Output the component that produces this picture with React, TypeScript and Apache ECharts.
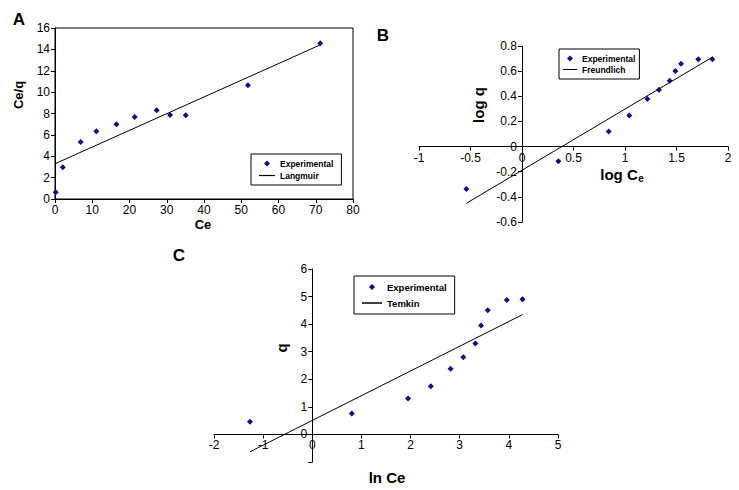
import React, { useEffect, useRef } from "react";
import * as echarts from "echarts";

// Panel A – Langmuir
const langExpX = [0.2, 2.1, 6.9, 11.1, 16.5, 21.4, 27.3, 30.9, 35.1, 51.8, 71.2];
const langExpY = [0.62, 2.96, 5.33, 6.33, 6.99, 7.67, 8.3, 7.86, 7.83, 10.64, 14.57];
const langFitX = [0, 71.2];
const langFitY = [3.3, 14.42];

// Panel B – Freundlich
const freExpX = [-0.54, 0.353, 0.841, 1.042, 1.217, 1.33, 1.434, 1.489, 1.544, 1.712, 1.848];
const freExpY = [-0.337, -0.117, 0.119, 0.247, 0.379, 0.451, 0.523, 0.602, 0.658, 0.695, 0.695];
const freFitX = [-0.54, 1.848];
const freFitY = [-0.451, 0.711];

// Panel C – Temkin
const temExpX = [-1.267, 0.804, 1.949, 2.412, 2.814, 3.073, 3.319, 3.434, 3.571, 3.959, 4.279];
const temExpY = [0.459, 0.761, 1.304, 1.75, 2.378, 2.8, 3.296, 3.948, 4.503, 4.877, 4.9];
const temFitX = [-1.267, 4.279];
const temFitY = [-0.628, 4.346];

const axisA = { xMin: 0, xMax: 80, xStep: 10, yMin: 0, yMax: 16, yStep: 2 };
const axisB = { xMin: -1, xMax: 2, xStep: 0.5, yMin: -0.6, yMax: 0.8, yStep: 0.2 };
const axisC = { xMin: -2, xMax: 5, xStep: 1, yMin: -1, yMax: 6, yStep: 1 };
const hiddenTickC = [-1];

const FONT = "'Liberation Sans', Arial, sans-serif";
const DOT = "#0c0c8c";

const gridA = { left: 55, top: 28, width: 298, height: 171 };
const gridB = { left: 419, top: 46, width: 309, height: 176 };
const gridC = { left: 214, top: 269, width: 344, height: 193 };

const zip = (xs: number[], ys: number[]) => xs.map((x, i) => [x, ys[i]]);

const axisCommon = (g: number) => ({
  gridIndex: g,
  type: "value" as const,
  splitLine: { show: false },
  axisLine: { show: true, onZero: false, lineStyle: { color: "#000", width: 1 } },
  axisTick: { show: true, length: 4, lineStyle: { color: "#000" } },
  axisLabel: { color: "#000", fontSize: 12, fontFamily: FONT, margin: 5 },
});

// offsets that place an axis where the other axis is zero (crossing axes)
const xCrossOffset = (g: { height: number }, a: { yMin: number; yMax: number }) =>
  -g.height * ((0 - a.yMin) / (a.yMax - a.yMin));
const yCrossOffset = (g: { width: number }, a: { xMin: number; xMax: number }) =>
  -g.width * ((0 - a.xMin) / (a.xMax - a.xMin));

const LINE_ICON = "path://M0,0L16,0L16,1.2L0,1.2Z";
const DIAMOND_ICON = "path://M3,0L6,3L3,6L0,3Z";

export default function App() {
  const ref = useRef<HTMLDivElement>(null);
  useEffect(() => {
    if (!ref.current) return;
    const chart = echarts.init(ref.current, undefined, { renderer: "svg" });
    const scatter = (xi: number, data: number[][]) => ({
      type: "scatter",
      name: "Experimental",
      xAxisIndex: xi,
      yAxisIndex: xi,
      symbol: "diamond",
      symbolSize: 6,
      itemStyle: { color: DOT, opacity: 1 },
      data,
    });
    const fit = (xi: number, name: string, data: number[][]) => ({
      type: "line",
      name,
      xAxisIndex: xi,
      yAxisIndex: xi,
      symbol: "none",
      lineStyle: { color: "#000", width: 1 },
      itemStyle: { color: "#000" },
      data,
    });
    const legend = (left: number, top: number, fitName: string, fs: number, pad: number[], gap: number, iw: number) => ({
      left,
      top,
      orient: "vertical",
      data: [
        { name: "Experimental", icon: DIAMOND_ICON, itemStyle: { color: DOT } },
        { name: fitName, icon: LINE_ICON, itemStyle: { color: "#000" } },
      ],
      borderColor: "#000",
      borderWidth: 1,
      padding: pad,
      itemGap: gap,
      itemWidth: iw,
      itemHeight: 6,
      symbolKeepAspect: true,
      backgroundColor: "#fff",
      textStyle: { fontSize: fs, fontWeight: "bold", fontFamily: FONT, color: "#000" },
      selectedMode: false,
    });
    const txt = (x: number, y: number, text: string, size: number, rot = 0) => ({
      type: "text",
      x,
      y,
      rotation: rot,
      style: {
        text,
        font: `bold ${size}px ${FONT}`,
        fill: "#000",
        textAlign: "center",
        textVerticalAlign: "middle",
      },
    });
    chart.setOption({
      animation: false,
      backgroundColor: "#fff",
      grid: [
        { ...gridA, show: true, borderColor: "#000", borderWidth: 1, backgroundColor: "transparent" },
        { ...gridB },
        { ...gridC },
      ],
      xAxis: [
        { ...axisCommon(0), min: axisA.xMin, max: axisA.xMax, interval: axisA.xStep },
        { ...axisCommon(1), min: axisB.xMin, max: axisB.xMax, interval: axisB.xStep, offset: xCrossOffset(gridB, axisB) },
        { ...axisCommon(2), min: axisC.xMin, max: axisC.xMax, interval: axisC.xStep, offset: xCrossOffset(gridC, axisC) },
      ],
      yAxis: [
        { ...axisCommon(0), min: axisA.yMin, max: axisA.yMax, interval: axisA.yStep },
        { ...axisCommon(1), min: axisB.yMin, max: axisB.yMax, interval: axisB.yStep, offset: yCrossOffset(gridB, axisB),
          axisLabel: { ...axisCommon(1).axisLabel, formatter: (v: number) => String(Math.round(v * 10) / 10) } },
        { ...axisCommon(2), min: axisC.yMin, max: axisC.yMax, interval: axisC.yStep, offset: yCrossOffset(gridC, axisC),
          axisLabel: { ...axisCommon(2).axisLabel, formatter: (v: number) => (hiddenTickC.includes(v) ? "" : String(v)) } },
      ],
      legend: [
        legend(251, 154, "Langmuir", 8.5, [5, 8, 5, 8], 3, 16),
        legend(559, 49, "Freundlich", 8.5, [5, 4, 5, 4], 2, 14),
        legend(354, 276, "Temkin", 9.5, [6, 8, 6, 8], 6, 20),
      ],
      series: [
        fit(0, "Langmuir", zip(langFitX, langFitY)),
        scatter(0, zip(langExpX, langExpY)),
        fit(1, "Freundlich", zip(freFitX, freFitY)),
        scatter(1, zip(freExpX, freExpY)),
        fit(2, "Temkin", zip(temFitX, temFitY)),
        scatter(2, zip(temExpX, temExpY)),
      ],
      graphic: [
        txt(19, 19, "A", 17),
        txt(383, 35, "B", 17),
        txt(179, 255, "C", 17),
        txt(18, 95, "Ce/q", 13, Math.PI / 2),
        txt(203, 224, "Ce", 13),
        txt(478, 105, "log q", 15, Math.PI / 2),
        txt(619, 174, "log C", 15),
        txt(641, 178, "e", 10),
        txt(281, 348, "q", 15, Math.PI / 2),
        txt(387, 477, "ln Ce", 15),
      ],
    });
    return () => chart.dispose();
  }, []);
  return <div ref={ref} style={{ position: "fixed", left: 0, top: 0, width: 739, height: 490 }} />;
}
